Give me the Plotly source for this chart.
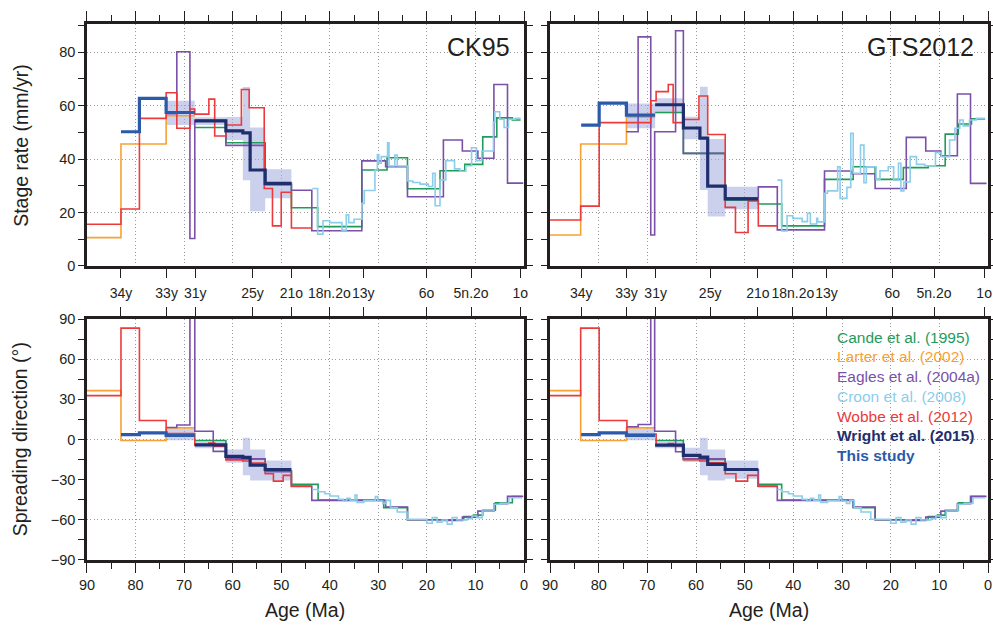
import plotly.graph_objects as go

# ---------------- magnetic anomaly picks ----------------
CHRON_LABELS = ["34y", "33y", "31y", "25y", "21o", "18n.2o", "13y", "6o", "5n.2o", "1o"]
CK95_CHRON_AGES = [83.0, 73.6, 67.7, 55.9, 47.9, 40.1, 33.1, 20.1, 10.9, 0.78]
GTS_CHRON_AGES = [83.6, 74.3, 68.3, 57.1, 47.3, 40.1, 33.2, 19.7, 11.1, 0.8]

# ---------------- stage rates, CK95 timescale (mm/yr) ----------------
CK_RATE_CANDE_AGE = [67.8, 61.4, 53.3, 47.9, 42.5, 33.4, 28.2, 24.0, 17.3, 12.2, 8.5, 5.6, 2.4, 0.7]
CK_RATE_CANDE_VAL = [51.8, 46.1, 30.3, 21.8, 14.7, 35.9, 40.5, 28.9, 35.6, 38.0, 48.3, 55.4, 54.6]
CK_RATE_LARTER_AGE = [90.0, 83.0, 73.7, 67.8]
CK_RATE_LARTER_VAL = [10.6, 45.6, 56.2]
CK_RATE_EAGLES_AGE = [73.7, 71.5, 68.8, 67.8, 61.4, 53.3, 47.9, 43.7, 33.4, 28.5, 24.0, 16.6, 12.7, 9.5, 6.2, 3.4, 0.15]
CK_RATE_EAGLES_VAL = [57.0, 80.1, 10.3, 54.5, 45.1, 31.0, 28.3, 13.2, 39.3, 37.1, 25.9, 47.1, 43.0, 40.3, 67.9, 31.0]
CK_RATE_CROON_AGE = [43.6, 42.5, 41.4, 40.0, 37.5, 36.6, 36.1, 35.0, 33.4, 32.9, 30.7, 30.2, 29.9, 29.4,
                     28.1, 27.8, 26.6, 26.1, 24.0, 22.9, 21.4, 19.7, 18.8, 18.3, 17.3, 16.1, 14.3, 13.2,
                     12.0, 10.8, 9.8, 8.7, 6.3, 6.0, 5.0, 4.1, 3.2, 1.8, 0.7]
CK_RATE_CROON_VAL = [29.0, 11.9, 16.9, 16.2, 13.4, 19.1, 16.2, 17.5, 23.4, 28.2, 35.9, 41.7, 38.4, 40.9,
                     46.1, 37.4, 41.5, 37.4, 31.8, 31.2, 30.6, 29.7, 34.7, 22.5, 32.2, 39.4, 36.3, 35.4,
                     37.5, 44.2, 39.4, 43.0, 53.7, 57.7, 54.9, 51.8, 54.9, 55.2]
CK_RATE_WOBBE_AGE = [90.0, 83.0, 79.2, 73.7, 71.5, 68.8, 67.8, 64.9, 63.7, 61.4, 58.2, 56.6, 53.5, 51.8, 50.0, 47.9, 43.7]
CK_RATE_WOBBE_VAL = [15.6, 21.3, 55.2, 64.8, 51.5, 58.7, 56.8, 62.4, 48.6, 52.7, 66.0, 59.2, 29.0, 15.0, 27.6, 14.2]
CK_RATE_WRIGHT_AGE = [67.8, 61.4, 57.9, 56.4, 53.3, 47.9]
CK_RATE_WRIGHT_VAL = [54.3, 50.5, 49.8, 35.9, 30.9]
CK_RATE_STUDY_AGE = [83.0, 79.2, 73.7, 67.8]
CK_RATE_STUDY_VAL = [50.2, 62.7, 57.4]
CK_RATE_BAND_AGE = [73.7, 67.8, 61.4, 57.9, 56.4, 53.3, 47.9]
CK_RATE_BAND_LO = [52.7, 52.7, 47.1, 32.1, 20.5, 25.3]
CK_RATE_BAND_HI = [61.8, 55.6, 55.7, 66.9, 51.8, 36.2]

# ---------------- stage rates, GTS2012 timescale (mm/yr) ----------------
GTS_RATE_CANDE_AGE = [68.4, 62.6, 54.0, 47.2, 42.4, 33.6, 27.7, 23.2, 17.4, 12.3, 8.8, 6.1, 3.4, 0.6]
GTS_RATE_CANDE_VAL = [57.4, 42.1, 24.7, 23.2, 15.0, 32.4, 37.1, 32.4, 36.8, 37.5, 49.3, 53.1, 55.0]
GTS_RATE_LARTER_AGE = [90.0, 83.7, 74.3, 68.4]
GTS_RATE_LARTER_VAL = [11.6, 45.6, 55.6]
GTS_RATE_EAGLES_AGE = [74.3, 71.9, 69.3, 68.5, 64.2, 62.6, 54.0, 47.2, 43.3, 33.6, 28.0, 23.2, 16.8, 12.8, 9.7, 6.3, 3.6, 0.3]
GTS_RATE_EAGLES_VAL = [50.2, 85.7, 11.6, 50.2, 88.0, 42.1, 25.5, 29.6, 13.5, 35.5, 34.5, 29.0, 48.1, 43.0, 41.2, 64.3, 30.9]
GTS_RATE_CROON_AGE = [43.3, 42.4, 41.3, 40.1, 38.2, 37.1, 36.5, 35.2, 35.0, 33.6, 33.0, 30.9, 30.4, 29.0,
                      28.2, 27.7, 26.2, 25.5, 25.0, 23.0, 22.2, 20.5, 19.4, 18.4, 17.9, 17.3, 16.0, 14.7,
                      13.0, 10.8, 9.6, 7.9, 6.8, 5.8, 5.1, 3.8, 2.4, 0.6]
GTS_RATE_CROON_VAL = [32.1, 13.1, 18.8, 17.8, 16.6, 19.7, 15.7, 17.8, 16.5, 27.2, 28.1, 37.1, 25.3, 29.4,
                      49.6, 34.7, 45.2, 31.1, 37.1, 32.4, 35.6, 37.1, 32.1, 38.4, 28.1, 31.4, 40.9, 38.0,
                      37.5, 42.4, 40.9, 47.1, 51.5, 54.6, 52.4, 54.6, 55.2]
GTS_RATE_WOBBE_AGE = [90.0, 83.7, 79.9, 69.3, 68.2, 65.7, 64.7, 62.6, 59.4, 57.6, 54.0, 51.9, 49.3, 47.2, 43.3]
GTS_RATE_WOBBE_VAL = [17.2, 22.4, 53.6, 61.8, 65.2, 67.9, 53.6, 54.8, 63.6, 49.2, 21.9, 12.5, 24.3, 15.0]
GTS_RATE_WRIGHT_AGE = [68.4, 62.6, 59.2, 57.6, 54.0, 47.2]
GTS_RATE_WRIGHT_VAL = [60.3, 51.6, 47.8, 29.9, 25.1]
GTS_RATE_STUDY_AGE = [83.6, 79.9, 74.3, 68.4]
GTS_RATE_STUDY_VAL = [52.7, 60.9, 56.4]
GTS_RATE_BAND_AGE = [74.3, 68.4, 62.6, 59.2, 57.6, 54.0, 47.2]
GTS_RATE_BAND_LO = [51.5, 57.1, 47.4, 28.4, 18.5, 21.2]
GTS_RATE_BAND_HI = [60.8, 62.7, 55.8, 67.0, 47.5, 29.6]

# ---------------- spreading direction, CK95 timescale (degrees) ----------------
CK_DIR_CANDE_AGE = [67.8, 61.4, 53.3, 47.9, 42.4, 28.9, 24.0, 12.4, 10.4, 8.5, 5.9, 2.4, 0.5]
CK_DIR_CANDE_VAL = [-0.7, -14.6, -23.6, -33.5, -45.2, -50.9, -59.9, -57.6, -56.5, -52.9, -47.2, -42.7]
CK_DIR_LARTER_AGE = [90.0, 83.0, 73.7, 67.8]
CK_DIR_LARTER_VAL = [36.5, -0.7, 8.7]
CK_DIR_EAGLES_AGE = [73.7, 71.5, 68.8, 67.8, 64.0, 61.4, 53.3, 47.9, 43.7, 28.5, 24.0, 16.6, 12.7, 9.5, 6.2, 3.4, 0.15]
CK_DIR_EAGLES_VAL = [9.0, 10.8, 100.0, 6.2, -8.9, -14.5, -24.0, -35.0, -45.5, -50.5, -60.0, -60.5, -58.0, -53.5, -48.0, -42.5]
CK_DIR_CROON_AGE = [43.6, 42.4, 41.0, 40.0, 38.2, 37.2, 36.5, 35.8, 34.8, 34.4, 33.0, 30.6, 30.1, 29.1, 28.4,
                    27.5, 26.1, 24.1, 20.0, 18.9, 17.9, 16.9, 15.8, 14.8, 13.8, 11.7, 10.7, 9.7, 8.6, 6.2,
                    4.9, 3.1, 0.4]
CK_DIR_CROON_VAL = [-37.3, -39.0, -40.5, -42.2, -44.7, -45.9, -44.0, -45.5, -41.5, -47.0, -45.7, -42.7, -45.9,
                    -47.7, -45.5, -51.0, -54.2, -59.6, -62.6, -58.4, -61.7, -60.1, -63.2, -58.4, -60.1, -59.1,
                    -57.1, -58.4, -53.4, -48.4, -47.7, -43.5]
CK_DIR_WOBBE_AGE = [90.0, 83.0, 79.2, 73.7, 67.8, 64.9, 63.7, 61.4, 57.9, 56.4, 53.3, 51.6, 49.6, 47.9, 43.7]
CK_DIR_WOBBE_VAL = [32.8, 83.2, 14.2, 4.5, -4.2, -2.7, -5.0, -15.2, -16.1, -17.6, -25.6, -31.1, -26.8, -34.8]
CK_DIR_WRIGHT_AGE = [67.8, 61.4, 57.9, 56.4, 53.3, 47.9]
CK_DIR_WRIGHT_VAL = [-4.0, -12.6, -13.4, -19.1, -22.4]
CK_DIR_STUDY_AGE = [83.0, 79.2, 73.7, 67.8]
CK_DIR_STUDY_VAL = [3.7, 5.0, 3.0]
CK_DIR_BAND_AGE = [73.7, 67.8, 61.4, 57.9, 56.4, 53.3, 47.9]
CK_DIR_BAND_LO = [-0.5, -6.5, -17.4, -26.8, -30.6, -30.6]
CK_DIR_BAND_HI = [8.0, -1.5, -7.5, 1.3, -7.5, -15.6]

# ---------------- spreading direction, GTS2012 timescale (degrees) ----------------
GTS_DIR_CANDE_AGE = [68.4, 62.6, 54.0, 47.2, 42.4, 27.7, 23.2, 12.3, 10.4, 8.8, 6.1, 3.4, 0.6]
GTS_DIR_CANDE_VAL = [-0.7, -14.9, -22.9, -33.5, -45.2, -50.9, -59.9, -57.6, -56.5, -52.9, -47.2, -42.7]
GTS_DIR_LARTER_AGE = [90.0, 83.7, 74.3, 68.4]
GTS_DIR_LARTER_VAL = [36.5, -0.7, 8.7]
GTS_DIR_EAGLES_AGE = [74.3, 71.9, 69.3, 68.5, 64.2, 62.6, 54.0, 47.2, 43.3, 27.7, 23.2, 16.8, 12.8, 9.7, 6.3, 3.6, 0.3]
GTS_DIR_EAGLES_VAL = [9.5, 11.2, 100.0, 6.2, -9.2, -14.5, -23.0, -35.0, -45.5, -50.5, -60.0, -60.5, -58.0, -53.5, -48.0, -42.5]
GTS_DIR_CROON_AGE = [43.3, 42.4, 41.0, 40.0, 38.2, 37.2, 36.5, 35.8, 34.8, 34.4, 33.0, 30.6, 30.1, 29.1, 28.4,
                     27.5, 26.1, 24.1, 20.0, 18.9, 17.9, 16.9, 15.8, 14.8, 13.8, 11.7, 10.7, 9.7, 8.6, 6.2,
                     4.9, 3.1, 0.6]
GTS_DIR_CROON_VAL = [-37.3, -39.0, -40.5, -42.2, -44.7, -45.9, -44.0, -45.5, -41.5, -47.0, -45.7, -42.7, -45.9,
                     -47.7, -45.5, -51.0, -54.2, -59.6, -62.6, -58.4, -61.7, -60.1, -63.2, -58.4, -60.1, -59.1,
                     -57.1, -58.4, -53.4, -48.4, -47.7, -43.5]
GTS_DIR_WOBBE_AGE = [90.0, 83.7, 79.9, 74.2, 68.2, 65.7, 64.7, 62.6, 59.2, 57.6, 54.0, 51.8, 49.4, 47.3, 43.3]
GTS_DIR_WOBBE_VAL = [32.8, 83.2, 14.2, 4.0, -4.2, -3.0, -4.5, -15.0, -16.1, -17.4, -25.6, -31.1, -26.8, -34.8]
GTS_DIR_WRIGHT_AGE = [68.4, 62.6, 59.2, 57.6, 54.0, 47.2]
GTS_DIR_WRIGHT_VAL = [-4.2, -11.9, -13.2, -18.6, -22.4]
GTS_DIR_STUDY_AGE = [83.6, 79.9, 74.3, 68.4]
GTS_DIR_STUDY_VAL = [3.7, 5.0, 3.0]
GTS_DIR_BAND_AGE = [74.3, 68.4, 62.6, 59.2, 57.6, 54.0, 47.2]
GTS_DIR_BAND_LO = [-0.5, -6.5, -16.9, -26.8, -30.6, -29.3]
GTS_DIR_BAND_HI = [8.0, -1.5, -6.2, 1.3, -7.5, -15.6]

# ---------------- styling ----------------
FONT = "Liberation Sans, Arial, Helvetica, sans-serif"
INK = "#231f20"
GRID = "#9a9a9a"
GRID_DASH = "1px,2.5px"
BAND = "rgba(160,172,220,0.55)"
SOURCES = [
    ("Cande et al. (1995)", "#1f9b5a", 1.6, False),
    ("Larter et al. (2002)", "#f7a135", 1.6, False),
    ("Eagles et al. (2004a)", "#7a50a9", 1.6, False),
    ("Croon et al. (2008)", "#8ccdec", 1.6, False),
    ("Wobbe et al. (2012)", "#ec3a3a", 1.6, False),
    ("Wright et al. (2015)", "#1f2e6c", 3.2, True),
    ("This study", "#2b5aab", 3.2, True),
]
DRAW_ORDER = ["Larter et al. (2002)", "Cande et al. (1995)", "Eagles et al. (2004a)",
              "Wobbe et al. (2012)", "Croon et al. (2008)", "Wright et al. (2015)", "This study"]
STYLE = {name: (col, w) for name, col, w, _ in SOURCES}

PANELS = [
    # (xaxis, yaxis, series by source, uncertainty band)
    ("x", "y", {
        "Cande et al. (1995)": (CK_RATE_CANDE_AGE, CK_RATE_CANDE_VAL),
        "Larter et al. (2002)": (CK_RATE_LARTER_AGE, CK_RATE_LARTER_VAL),
        "Eagles et al. (2004a)": (CK_RATE_EAGLES_AGE, CK_RATE_EAGLES_VAL),
        "Croon et al. (2008)": (CK_RATE_CROON_AGE, CK_RATE_CROON_VAL),
        "Wobbe et al. (2012)": (CK_RATE_WOBBE_AGE, CK_RATE_WOBBE_VAL),
        "Wright et al. (2015)": (CK_RATE_WRIGHT_AGE, CK_RATE_WRIGHT_VAL),
        "This study": (CK_RATE_STUDY_AGE, CK_RATE_STUDY_VAL),
    }, (CK_RATE_BAND_AGE, CK_RATE_BAND_LO, CK_RATE_BAND_HI)),
    ("x2", "y2", {
        "Cande et al. (1995)": (GTS_RATE_CANDE_AGE, GTS_RATE_CANDE_VAL),
        "Larter et al. (2002)": (GTS_RATE_LARTER_AGE, GTS_RATE_LARTER_VAL),
        "Eagles et al. (2004a)": (GTS_RATE_EAGLES_AGE, GTS_RATE_EAGLES_VAL),
        "Croon et al. (2008)": (GTS_RATE_CROON_AGE, GTS_RATE_CROON_VAL),
        "Wobbe et al. (2012)": (GTS_RATE_WOBBE_AGE, GTS_RATE_WOBBE_VAL),
        "Wright et al. (2015)": (GTS_RATE_WRIGHT_AGE, GTS_RATE_WRIGHT_VAL),
        "This study": (GTS_RATE_STUDY_AGE, GTS_RATE_STUDY_VAL),
    }, (GTS_RATE_BAND_AGE, GTS_RATE_BAND_LO, GTS_RATE_BAND_HI)),
    ("x3", "y3", {
        "Cande et al. (1995)": (CK_DIR_CANDE_AGE, CK_DIR_CANDE_VAL),
        "Larter et al. (2002)": (CK_DIR_LARTER_AGE, CK_DIR_LARTER_VAL),
        "Eagles et al. (2004a)": (CK_DIR_EAGLES_AGE, CK_DIR_EAGLES_VAL),
        "Croon et al. (2008)": (CK_DIR_CROON_AGE, CK_DIR_CROON_VAL),
        "Wobbe et al. (2012)": (CK_DIR_WOBBE_AGE, CK_DIR_WOBBE_VAL),
        "Wright et al. (2015)": (CK_DIR_WRIGHT_AGE, CK_DIR_WRIGHT_VAL),
        "This study": (CK_DIR_STUDY_AGE, CK_DIR_STUDY_VAL),
    }, (CK_DIR_BAND_AGE, CK_DIR_BAND_LO, CK_DIR_BAND_HI)),
    ("x4", "y4", {
        "Cande et al. (1995)": (GTS_DIR_CANDE_AGE, GTS_DIR_CANDE_VAL),
        "Larter et al. (2002)": (GTS_DIR_LARTER_AGE, GTS_DIR_LARTER_VAL),
        "Eagles et al. (2004a)": (GTS_DIR_EAGLES_AGE, GTS_DIR_EAGLES_VAL),
        "Croon et al. (2008)": (GTS_DIR_CROON_AGE, GTS_DIR_CROON_VAL),
        "Wobbe et al. (2012)": (GTS_DIR_WOBBE_AGE, GTS_DIR_WOBBE_VAL),
        "Wright et al. (2015)": (GTS_DIR_WRIGHT_AGE, GTS_DIR_WRIGHT_VAL),
        "This study": (GTS_DIR_STUDY_AGE, GTS_DIR_STUDY_VAL),
    }, (GTS_DIR_BAND_AGE, GTS_DIR_BAND_LO, GTS_DIR_BAND_HI)),
]


def stepped(vals):
    """Stage values repeated once so an 'hv' line closes the last stage."""
    return list(vals) + [vals[-1]]


fig = go.Figure()

for xa, ya, series, (b_age, b_lo, b_hi) in PANELS:
    # uncertainty envelope for the stage poles
    fig.add_trace(go.Scatter(x=b_age, y=stepped(b_lo), xaxis=xa, yaxis=ya, mode="lines",
                             line=dict(width=0, shape="hv"), hoverinfo="skip", showlegend=False))
    fig.add_trace(go.Scatter(x=b_age, y=stepped(b_hi), xaxis=xa, yaxis=ya, mode="lines",
                             line=dict(width=0, shape="hv"), fill="tonexty", fillcolor=BAND,
                             hoverinfo="skip", showlegend=False))
    for name in DRAW_ORDER:
        ages, vals = series[name]
        col, w = STYLE[name]
        fig.add_trace(go.Scatter(x=ages, y=stepped(vals), xaxis=xa, yaxis=ya, mode="lines",
                                 name=name, line=dict(color=col, width=w, shape="hv"),
                                 showlegend=False))

# empty traces that register the overlay axes (chron ticks, direction grid)
for xa, ya, ages in (("x5", "y", CK95_CHRON_AGES), ("x6", "y2", GTS_CHRON_AGES),
                     ("x7", "y3", CK95_CHRON_AGES), ("x8", "y4", GTS_CHRON_AGES),
                     ("x3", "y5", CK95_CHRON_AGES), ("x4", "y6", GTS_CHRON_AGES)):
    fig.add_trace(go.Scatter(x=ages, y=[None] * len(ages), xaxis=xa, yaxis=ya, mode="lines",
                             hoverinfo="skip", showlegend=False))

DOM_LEFT = [0.0876, 0.5277]
DOM_RIGHT = [0.5539, 0.9950]
DOM_TOP = [0.5758, 0.9617]
DOM_BOTTOM = [0.1069, 0.4912]

tickfont = dict(family=FONT, size=14.5, color=INK)


def age_axis(domain, anchor, side, labels):
    return dict(domain=domain, anchor=anchor, side=side, range=[90, 0],
                tickmode="linear", tick0=0, dtick=10, ticks="outside", ticklen=10,
                tickwidth=1.3, tickcolor=INK, showticklabels=labels, tickfont=tickfont,
                showgrid=True, gridcolor=GRID, griddash=GRID_DASH, gridwidth=1,
                minor=dict(tick0=0, dtick=5, ticks="outside", ticklen=6, tickwidth=1.3,
                           tickcolor=INK, showgrid=False),
                showline=True, linecolor=INK, linewidth=2.5, mirror=True,
                zeroline=False, automargin=False)


def chron_axis(overlay, anchor, side, ages, labels):
    return dict(overlaying=overlay, anchor=anchor, side=side, range=[90, 0],
                tickmode="array", tickvals=ages,
                ticktext=CHRON_LABELS if labels else [""] * len(ages),
                ticks="outside", ticklen=11, tickwidth=1.3, tickcolor=INK, tickangle=0,
                ticklabelstandoff=3,
                showticklabels=labels, tickfont=dict(family=FONT, size=14, color=INK),
                showgrid=False, showline=False, zeroline=False, automargin=False)


def rate_axis(domain, anchor, labels):
    return dict(domain=domain, anchor=anchor, range=[0, 90.5], tickmode="linear", tick0=0, dtick=20,
                ticks="outside", ticklen=6, tickwidth=1.3, tickcolor=INK,
                showticklabels=labels, tickfont=tickfont,
                minor=dict(tick0=0, dtick=10, ticks="outside", ticklen=6, tickwidth=1.3,
                           tickcolor=INK, showgrid=False),
                showgrid=True, gridcolor=GRID, griddash=GRID_DASH, gridwidth=1,
                showline=True, linecolor=INK, linewidth=2.5, mirror="allticks",
                zeroline=False, automargin=False)


def dir_axis(domain, anchor, labels):
    return dict(domain=domain, anchor=anchor, range=[-90, 90], tickmode="linear", tick0=0, dtick=30,
                ticks="outside", ticklen=6, tickwidth=1.3, tickcolor=INK,
                showticklabels=labels, tickfont=tickfont,
                minor=dict(tick0=0, dtick=15, ticks="outside", ticklen=6, tickwidth=1.3,
                           tickcolor=INK, showgrid=False),
                showgrid=False, showline=True, linecolor=INK, linewidth=2.5, mirror="allticks",
                zeroline=False, automargin=False)


def dir_grid(overlay, anchor):
    return dict(overlaying=overlay, anchor=anchor, range=[-90, 90], tickmode="array",
                tickvals=[-60, 0, 60], ticks="", showticklabels=False,
                showgrid=True, gridcolor=GRID, griddash=GRID_DASH, gridwidth=1,
                showline=False, zeroline=False, automargin=False)


fig.update_layout(
    width=993, height=627, margin=dict(l=0, r=0, t=0, b=0),
    paper_bgcolor="white", plot_bgcolor="white", showlegend=False,
    font=dict(family=FONT, color=INK),
    xaxis=age_axis(DOM_LEFT, "y", "top", False),
    xaxis2=age_axis(DOM_RIGHT, "y2", "top", False),
    xaxis3=age_axis(DOM_LEFT, "y3", "bottom", True),
    xaxis4=age_axis(DOM_RIGHT, "y4", "bottom", True),
    xaxis5=chron_axis("x", "y", "bottom", CK95_CHRON_AGES, True),
    xaxis6=chron_axis("x2", "y2", "bottom", GTS_CHRON_AGES, True),
    xaxis7=chron_axis("x3", "y3", "top", CK95_CHRON_AGES, False),
    xaxis8=chron_axis("x4", "y4", "top", GTS_CHRON_AGES, False),
    yaxis=rate_axis(DOM_TOP, "x", True),
    yaxis2=rate_axis(DOM_TOP, "x2", False),
    yaxis3=dir_axis(DOM_BOTTOM, "x3", True),
    yaxis4=dir_axis(DOM_BOTTOM, "x4", False),
    yaxis5=dir_grid("y3", "x3"),
    yaxis6=dir_grid("y4", "x4"),
)

# axis titles and panel tags
title_font = dict(family=FONT, size=19.5, color=INK)
notes = [
    dict(text="Stage rate (mm/yr)", x=0.021, y=(DOM_TOP[0] + DOM_TOP[1]) / 2, textangle=-90),
    dict(text="Spreading direction (°)", x=0.021, y=(DOM_BOTTOM[0] + DOM_BOTTOM[1]) / 2, textangle=-90),
    dict(text="Age (Ma)", x=(DOM_LEFT[0] + DOM_LEFT[1]) / 2, y=0.027, textangle=0),
    dict(text="Age (Ma)", x=(DOM_RIGHT[0] + DOM_RIGHT[1]) / 2, y=0.027, textangle=0),
]
for n in notes:
    fig.add_annotation(xref="paper", yref="paper", showarrow=False, font=title_font,
                       xanchor="center", yanchor="middle", **n)

for tag, dom in (("CK95", DOM_LEFT), ("GTS2012", DOM_RIGHT)):
    fig.add_annotation(text=tag, xref="paper", yref="paper", x=dom[1] - 0.012, y=0.925,
                       xanchor="right", yanchor="middle", showarrow=False,
                       font=dict(family=FONT, size=25, color=INK))

# coloured source list inside the lower right panel
for i, (name, col, _, bold) in enumerate(SOURCES):
    fig.add_annotation(text=f"<b>{name}</b>" if bold else name, xref="paper", yref="paper",
                       x=0.841, y=0.4625 - i * 0.0315, xanchor="left", yanchor="middle",
                       showarrow=False, font=dict(family=FONT, size=15.5, color=col))

fig.write_html("out.html")
